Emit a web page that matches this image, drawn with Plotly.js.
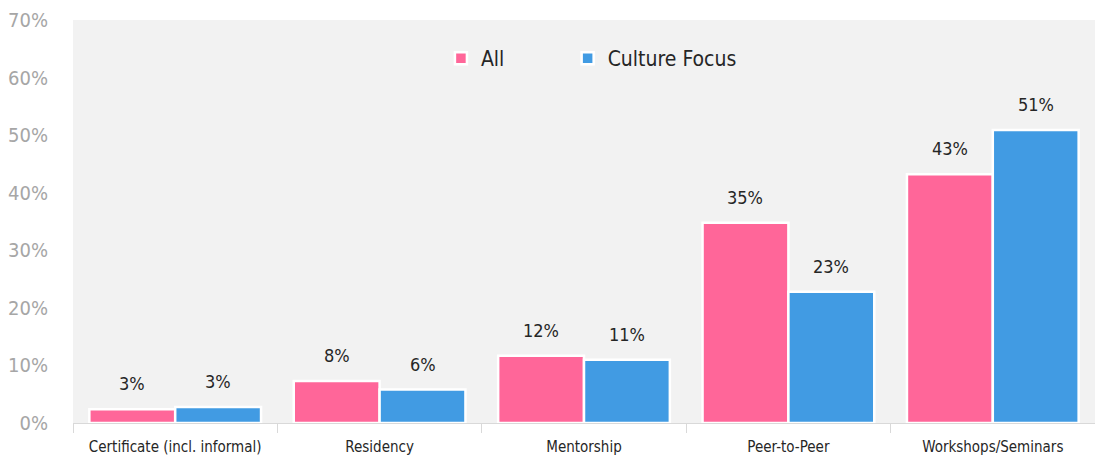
<!DOCTYPE html>
<html>
<head>
<meta charset="utf-8">
<script src="https://cdn.plot.ly/plotly-3.0.1.min.js"></script>
<style>
html,body{margin:0;padding:0;background:#fff;}
#chart{width:1095px;height:461px;}
#chart text{font-stretch:condensed !important;}
</style>
</head>
<body>
<div id="chart"></div>
<script>
const categories = ["Certificate (incl. informal)", "Residency", "Mentorship", "Peer-to-Peer", "Workshops/Seminars"];
const seriesNames = ["All", "Culture Focus"];
const allValues = [2.4, 7.3, 11.7, 34.8, 43.2];
const cultureValues = [2.8, 5.8, 11.0, 22.8, 50.9];
const allLabels = ["3%", "8%", "12%", "35%", "43%"];
const cultureLabels = ["3%", "6%", "11%", "23%", "51%"];
const yTickVals = [0, 10, 20, 30, 40, 50, 60, 70];

const FONT = "'DejaVu Sans Condensed', 'DejaVu Sans', sans-serif";
const PINK = "#ff6699";
const BLUE = "#419be3";

const traces = [
  {type: "bar", name: seriesNames[0], x: categories, y: allValues, legend: "legend",
   marker: {color: PINK, line: {color: "#ffffff", width: 2.5}}, hoverinfo: "none"},
  {type: "bar", name: seriesNames[1], x: categories, y: cultureValues, legend: "legend2",
   marker: {color: BLUE, line: {color: "#ffffff", width: 2.5}}, hoverinfo: "none"}
];

const plotW = 1095 - 73;
const bargap = 0.16;
const half = plotW / categories.length * (1 - bargap) / 4;
const annotations = [];
categories.forEach((c, i) => {
  annotations.push({x: c, y: allValues[i], xref: "x", yref: "y", text: allLabels[i], showarrow: false,
    xshift: -half, yanchor: "bottom", yshift: 13, font: {family: FONT, size: 18, color: "#262626"}});
  annotations.push({x: c, y: cultureValues[i], xref: "x", yref: "y", text: cultureLabels[i], showarrow: false,
    xshift: half, yanchor: "bottom", yshift: 13, font: {family: FONT, size: 18, color: "#262626"}});
});

const legendStyle = (xpos) => ({orientation: "h", x: xpos, xanchor: "left", y: 0.955, yanchor: "top",
  bgcolor: "rgba(0,0,0,0)", font: {family: FONT, size: 21, color: "#262626"}});

const layout = {
  width: 1095, height: 461,
  margin: {l: 73, r: 0, t: 20, b: 38},
  paper_bgcolor: "#ffffff",
  plot_bgcolor: "#f2f2f2",
  barmode: "group",
  bargap: bargap,
  bargroupgap: 0,
  font: {family: FONT, color: "#262626"},
  showlegend: true,
  legend: legendStyle(0.360),
  legend2: legendStyle(0.484),
  xaxis: {type: "category", showline: true, linecolor: "#d9d9d9", linewidth: 1,
    ticks: "outside", tickson: "boundaries", ticklen: 9, tickcolor: "#d9d9d9",
    tickangle: 0, ticklabelstandoff: 10,
    tickfont: {family: FONT, size: 15, color: "#262626"}, showgrid: false, zeroline: false,
    fixedrange: true},
  yaxis: {range: [0, 70], tickvals: yTickVals, ticktext: yTickVals.map(v => v + "%"),
    showgrid: false, zeroline: false, showline: false, ticks: "",
    tickfont: {family: FONT, size: 20, color: "#a6a6a6"}, ticklabelstandoff: 24, fixedrange: true},
  annotations: annotations
};

Plotly.newPlot("chart", traces, layout, {displayModeBar: false, staticPlot: true});
</script>
</body>
</html>
